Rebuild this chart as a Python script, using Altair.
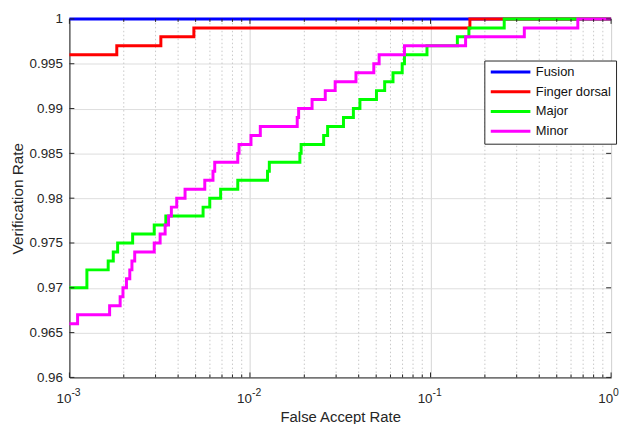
import altair as alt
import pandas as pd

# ---------------- data ----------------
series_names = ["Fusion", "Finger dorsal", "Major", "Minor"]
series_colors = ["#0000ff", "#ff0000", "#00ff00", "#ff00ff"]

fusion_far = [0.001, 1.0]
fusion_vr = [1.0, 1.0]

finger_far = [0.001, 0.00183, 0.00321, 0.00489, 0.1652, 1.0]
finger_vr = [0.996, 0.997, 0.998, 0.999, 1.0, 1.0]

major_far = [0.001, 0.00125, 0.00164, 0.00175, 0.00185, 0.00224, 0.00295, 0.00342,
             0.0055, 0.00599, 0.00688, 0.00856, 0.01251, 0.0128, 0.0189, 0.0192,
             0.02559, 0.02692, 0.03295, 0.03739, 0.04064, 0.05018, 0.05572, 0.06197,
             0.06968, 0.07172, 0.09557, 0.1408, 0.1631, 0.2559, 1.0]
major_vr = [0.970, 0.972, 0.973, 0.974, 0.975, 0.976, 0.977, 0.978,
            0.979, 0.980, 0.981, 0.982, 0.983, 0.984, 0.985, 0.986,
            0.987, 0.988, 0.989, 0.990, 0.991, 0.992, 0.993, 0.994,
            0.995, 0.996, 0.997, 0.998, 0.999, 1.0, 1.0]

minor_far = [0.001, 0.00111, 0.00167, 0.00191, 0.00198, 0.00207, 0.00216, 0.00222,
             0.0023, 0.00295, 0.00318, 0.00339, 0.00354, 0.00367, 0.00393, 0.00437,
             0.00562, 0.00624, 0.00638, 0.00856, 0.0087, 0.01013, 0.01141, 0.01827,
             0.0186, 0.02208, 0.02612, 0.02964, 0.03864, 0.0485, 0.05192, 0.07172,
             0.1564, 0.3307, 0.6542, 1.0]
minor_vr = [0.966, 0.967, 0.968, 0.969, 0.970, 0.971, 0.972, 0.973,
            0.974, 0.975, 0.976, 0.977, 0.978, 0.979, 0.980, 0.981,
            0.982, 0.983, 0.984, 0.985, 0.986, 0.987, 0.988, 0.989,
            0.990, 0.991, 0.992, 0.993, 0.994, 0.995, 0.996, 0.997,
            0.998, 0.999, 1.0, 1.0]

y_ticks = [0.96, 0.965, 0.97, 0.975, 0.98, 0.985, 0.99, 0.995, 1.0]
x_major = [0.001, 0.01, 0.1, 1.0]
x_exponents = ["-3", "-2", "-1", "0"]
x_minor = [0.002, 0.003, 0.004, 0.005, 0.006, 0.007, 0.008, 0.009,
           0.02, 0.03, 0.04, 0.05, 0.06, 0.07, 0.08, 0.09,
           0.2, 0.3, 0.4, 0.5, 0.6, 0.7, 0.8, 0.9]

# ---------------- layout / style ----------------
W, H = 547, 362
FONT = "Liberation Sans"
DARK = "#262626"

xscale = alt.Scale(type="log", domain=[0.001, 1.0], nice=False)
yscale = alt.Scale(domain=[0.96, 1.0], nice=False, zero=False)

xaxis = alt.Axis(
    title="False Accept Rate", values=x_major, labelExpr="'10'",
    labelAlign="right", labelBaseline="top", labelPadding=14, labelOffset=1.5,
    labelFlush=False, labelOverlap=False, labelBound=False,
    tickSize=0, grid=True, gridColor="#d4d4d4", domainColor=DARK,
    labelColor=DARK, labelFont=FONT, labelFontSize=13.5,
    titleFont=FONT, titleFontSize=15, titleFontWeight="normal", titleColor=DARK,
    titleY=45, titleBaseline="alphabetic",
)
yaxis = alt.Axis(
    title="Verification Rate", values=y_ticks, format="~g",
    tickSize=0, labelPadding=7, labelFlush=False, labelOverlap=False,
    grid=True, gridColor="#dedede", domainColor=DARK,
    labelColor=DARK, labelFont=FONT, labelFontSize=13.5,
    titleFont=FONT, titleFontSize=15.5, titleFontWeight="normal", titleColor=DARK,
    titleX=-52, titleY=H / 2, titleBaseline="middle",
)

color = alt.Color(
    "series:N",
    scale=alt.Scale(domain=series_names, range=series_colors),
    legend=alt.Legend(
        title=None, orient="none", legendX=419, legendY=42, direction="vertical",
        symbolType="stroke", symbolSize=1600, symbolStrokeWidth=3, clipHeight=13,
        rowPadding=6, labelOffset=4, labelFont=FONT, labelFontSize=13,
        labelColor="#111111", strokeColor=DARK, fillColor="white", padding=5,
        cornerRadius=0, labelLimit=200,
    ),
)

# ---------------- layers ----------------
minor_df = pd.DataFrame({"v": x_minor})
major_df = pd.DataFrame({"v": x_major, "e": x_exponents})
ytick_df = pd.DataFrame({"v": y_ticks})

minor_grid = alt.Chart(minor_df).mark_rule(
    color="#c8c8c8", strokeDash=[1.5, 2.5], strokeWidth=1
).encode(x=alt.X("v:Q", scale=xscale, axis=xaxis))


def line_layer(name, far, vr):
    df = pd.DataFrame({"far": far, "vr": vr, "series": name})
    return alt.Chart(df).mark_line(
        interpolate="step-after", strokeWidth=3, clip=False
    ).encode(
        x=alt.X("far:Q", scale=xscale, axis=xaxis),
        y=alt.Y("vr:Q", scale=yscale, axis=yaxis),
        color=color,
    )


lines = [
    line_layer("Fusion", fusion_far, fusion_vr),
    line_layer("Finger dorsal", finger_far, finger_vr),
    line_layer("Major", major_far, major_vr),
    line_layer("Minor", minor_far, minor_vr),
]

tick_y_left = alt.Chart(ytick_df).mark_rule(color=DARK).encode(
    y=alt.Y("v:Q", scale=yscale, axis=yaxis), x=alt.value(0), x2=alt.value(5))
tick_y_right = alt.Chart(ytick_df).mark_rule(color=DARK).encode(
    y=alt.Y("v:Q", scale=yscale, axis=yaxis), x=alt.value(W - 5), x2=alt.value(W))
tick_x_bot = alt.Chart(major_df).mark_rule(color=DARK).encode(
    x=alt.X("v:Q", scale=xscale, axis=xaxis), y=alt.value(H - 5), y2=alt.value(H))
tick_x_top = alt.Chart(major_df).mark_rule(color=DARK).encode(
    x=alt.X("v:Q", scale=xscale, axis=xaxis), y=alt.value(0), y2=alt.value(5))
tick_xm_bot = alt.Chart(minor_df).mark_rule(color=DARK).encode(
    x=alt.X("v:Q", scale=xscale, axis=xaxis), y=alt.value(H - 3), y2=alt.value(H))
tick_xm_top = alt.Chart(minor_df).mark_rule(color=DARK).encode(
    x=alt.X("v:Q", scale=xscale, axis=xaxis), y=alt.value(0), y2=alt.value(3))

exponents = alt.Chart(major_df).mark_text(
    align="left", baseline="top", dx=2, font=FONT, fontSize=10.5, color=DARK
).encode(x=alt.X("v:Q", scale=xscale, axis=xaxis), y=alt.value(H + 11), text="e:N")

chart = alt.layer(
    minor_grid, *lines, tick_y_left, tick_y_right, tick_x_bot, tick_x_top,
    tick_xm_bot, tick_xm_top, exponents,
).properties(
    width=W, height=H, autosize="none",
    padding={"left": 62, "top": 9, "right": 10, "bottom": 45},
).configure_view(stroke=DARK, strokeWidth=1).configure(background="white")

chart.save("out.html", embed_options={"renderer": "svg", "actions": False})
